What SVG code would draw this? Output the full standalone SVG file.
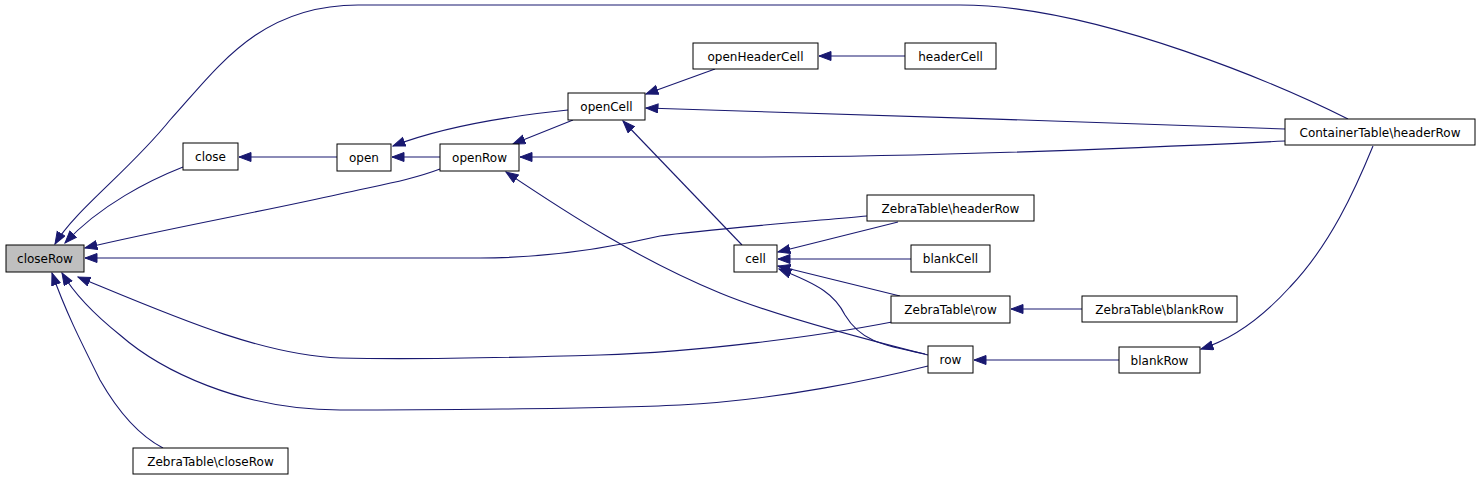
<svg xmlns="http://www.w3.org/2000/svg" width="1480" height="480" viewBox="0 0 1480 480">
<style>
.n rect{fill:#fff;stroke:#000;stroke-width:1}
.n text{font-family:"DejaVu Sans","Liberation Sans",sans-serif;font-size:12px;text-anchor:middle;fill:#000}
#closeRow rect{fill:#bfbfbf}
.e path{fill:none;stroke:#191970;stroke-width:1.1;marker-end:url(#ah)}
</style>
<defs>
<marker id="ah" markerUnits="userSpaceOnUse" markerWidth="14" markerHeight="11" refX="12.5" refY="5" orient="auto" viewBox="0 0 14 11">
<path d="M0.5,0.5 L12.5,5 L0.5,9.5 z" fill="#191970" stroke="#191970" stroke-width="1"/>
</marker>
</defs>
<rect width="1480" height="480" fill="#fff"/>
<g class="e" id="edges">
<path d="M1348,119 C1290,90 1100,5 960,5 L358,5 C258,5 216,70 170,120 C130,170 75,210 55,244"/>
<path d="M183,167 C150,180 100,205 65,243"/>
<path d="M337,157 L239,157"/>
<path d="M440,157 L392,157"/>
<path d="M568,110 C520,115 450,124 393,146"/>
<path d="M573,120 L513,144"/>
<path d="M440,169 C411,180 380,185 340,194 C260,212 160,230 85,248"/>
<path d="M715,69 L646,94"/>
<path d="M905,56 L819,56"/>
<path d="M1285,129 C1100,122 800,113 646,108"/>
<path d="M1285,141 C1100,150 900,157 750,157 L520,157"/>
<path d="M742,245 L623,121"/>
<path d="M928,355 C880,343 780,318 720,293 C640,260 570,215 506,172"/>
<path d="M867,216 C800,222 700,230 660,236 C600,250 540,258 480,258 L85,258"/>
<path d="M898,222 L778,252"/>
<path d="M911,259 L778,259"/>
<path d="M900,296 L778,266"/>
<path d="M925,354 C880,345 860,340 845,315 C835,295 820,285 779,269"/>
<path d="M892,322 C820,336 700,352 600,355 C500,358 420,360 340,358 C260,355 170,315 78,277"/>
<path d="M928,366 C880,378 780,400 680,405 C600,409 400,410 340,410 C240,410 160,370 120,335 C95,315 75,295 62,273"/>
<path d="M163,448 C140,436 120,415 100,380 C80,340 65,310 52,273"/>
<path d="M1082,309 L1011,309"/>
<path d="M1119,360 L974,360"/>
<path d="M1373,146 C1355,190 1330,245 1290,287 C1260,320 1230,340 1201,349"/>
</g>
<g class="n" id="closeRow"><rect x="6" y="245" width="78" height="27"/><text x="45" y="263">closeRow</text></g>
<g class="n" id="close"><rect x="183" y="143" width="55" height="27"/><text x="210.5" y="161">close</text></g>
<g class="n" id="open"><rect x="337" y="144" width="54" height="27"/><text x="364" y="162">open</text></g>
<g class="n" id="openRow"><rect x="440" y="144" width="79" height="27"/><text x="479.5" y="162">openRow</text></g>
<g class="n" id="openCell"><rect x="568" y="93" width="77" height="27"/><text x="606.5" y="111">openCell</text></g>
<g class="n" id="openHeaderCell"><rect x="693" y="43" width="125" height="26"/><text x="755.5" y="60.5">openHeaderCell</text></g>
<g class="n" id="headerCell"><rect x="905" y="43" width="91" height="26"/><text x="950.5" y="60.5">headerCell</text></g>
<g class="n" id="ContainerTable_headerRow"><rect x="1285" y="119" width="190" height="26"/><text x="1380" y="136.5">ContainerTable\headerRow</text></g>
<g class="n" id="ZebraTable_headerRow"><rect x="867" y="195" width="167" height="26"/><text x="950.5" y="212.5">ZebraTable\headerRow</text></g>
<g class="n" id="cell"><rect x="734" y="245" width="43" height="27"/><text x="755.5" y="263">cell</text></g>
<g class="n" id="blankCell"><rect x="911" y="245" width="79" height="27"/><text x="950.5" y="263">blankCell</text></g>
<g class="n" id="ZebraTable_row"><rect x="891" y="296" width="119" height="27"/><text x="950.5" y="314">ZebraTable\row</text></g>
<g class="n" id="ZebraTable_blankRow"><rect x="1082" y="296" width="155" height="26"/><text x="1159.5" y="313.5">ZebraTable\blankRow</text></g>
<g class="n" id="row"><rect x="928" y="346" width="45" height="27"/><text x="950.5" y="364">row</text></g>
<g class="n" id="blankRow"><rect x="1119" y="347" width="81" height="26"/><text x="1159.5" y="364.5">blankRow</text></g>
<g class="n" id="ZebraTable_closeRow"><rect x="133" y="448" width="155" height="26"/><text x="210.5" y="465.5">ZebraTable\closeRow</text></g>
</svg>
